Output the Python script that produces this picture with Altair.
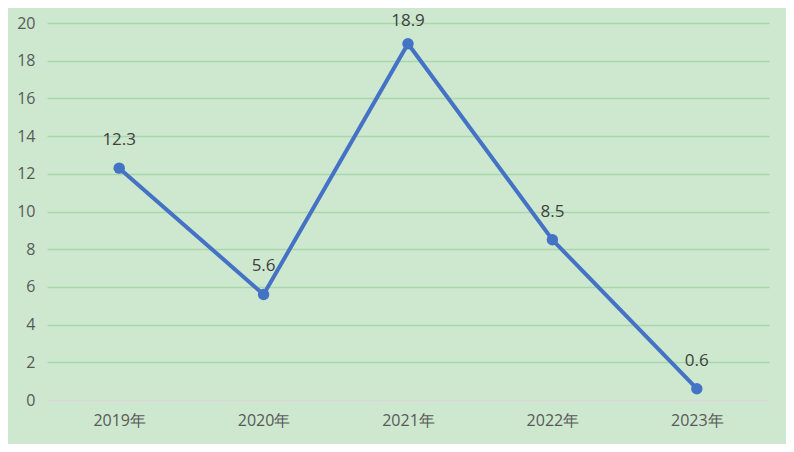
import altair as alt
import pandas as pd

years = ["2019年", "2020年", "2021年", "2022年", "2023年"]
values = [12.3, 5.6, 18.9, 8.5, 0.6]

df = pd.DataFrame({"year": years, "value": values})

font = "Open Sans"

base = alt.Chart(df).encode(
    x=alt.X("year:N", sort=years, title=None,
            scale=alt.Scale(type="point", padding=0.5),
            axis=alt.Axis(labelAngle=0, ticks=False, domain=True, domainColor="#d9d9d9",
                          domainWidth=1.5, labelColor="#595959", labelFontSize=16,
                          labelFont=font, labelPadding=12, grid=False)),
    y=alt.Y("value:Q", title=None,
            scale=alt.Scale(domain=[0, 20], nice=False),
            axis=alt.Axis(values=list(range(0, 21, 2)), ticks=False, domain=False,
                          labelColor="#595959", labelFontSize=16, labelFont=font,
                          labelPadding=12,
                          gridColor=alt.condition("datum.value == 0", alt.value("#d9d9d9"), alt.value("#a9d6ab")),
                          gridWidth=1.5)),
)

line = base.mark_line(color="#4472c4", strokeWidth=4)
points = base.mark_point(filled=True, color="#4472c4", size=130, opacity=1)
labels_low = base.transform_filter("datum.value <= 18").mark_text(
    dy=-28, fontSize=17, color="#404040", font=font).encode(
    text=alt.Text("value:Q", format=".1f"))
labels_top = base.transform_filter("datum.value > 18").mark_text(
    dy=-23, fontSize=17, color="#404040", font=font).encode(
    text=alt.Text("value:Q", format=".1f"))

chart = (line + points + labels_low + labels_top).properties(
    width=722, height=377,
    padding={"left": 39, "top": 15, "right": 17, "bottom": 44},
    autosize=alt.AutoSizeParams(type="none"),
    background="#cde8cf",
).configure_view(stroke=None)

chart.save("out.html", embed_options={"renderer": "svg", "actions": False})
